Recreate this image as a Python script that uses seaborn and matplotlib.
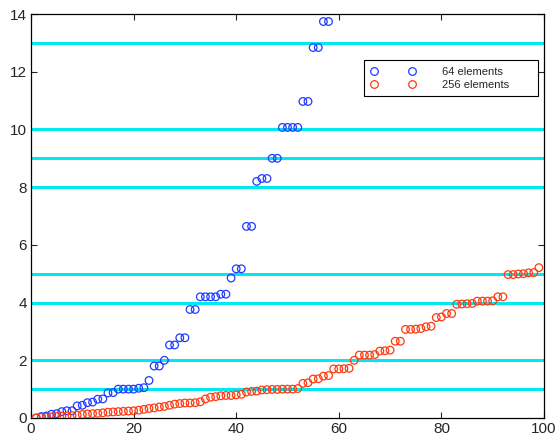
import numpy as np
import pandas as pd
import matplotlib
matplotlib.use("Agg")
import matplotlib.pyplot as plt
from matplotlib.lines import Line2D
import seaborn as sns

# values
blue_vals = [0.0, 0.05, 0.07, 0.13, 0.15, 0.22, 0.25, 0.25, 0.42, 0.44,
             0.53, 0.55, 0.65, 0.66, 0.87, 0.88, 1.0, 1.0, 1.0, 1.0,
             1.03, 1.05, 1.3, 1.8, 1.8, 2.0, 2.53, 2.53, 2.78, 2.78,
             3.76, 3.76, 4.2, 4.2, 4.2, 4.2, 4.29, 4.29, 4.85, 5.17,
             5.17, 6.64, 6.64, 8.2, 8.3, 8.3, 9.0, 9.0, 10.07, 10.07,
             10.07, 10.07, 10.97, 10.97, 12.84, 12.84, 13.74, 13.74]
red_vals = [0.0, 0.02, 0.03, 0.04, 0.05, 0.06, 0.07, 0.08, 0.1, 0.12,
            0.14, 0.15, 0.16, 0.18, 0.2, 0.21, 0.22, 0.23, 0.24, 0.25,
            0.27, 0.3, 0.33, 0.35, 0.38, 0.4, 0.44, 0.48, 0.5, 0.52,
            0.52, 0.53, 0.56, 0.66, 0.72, 0.74, 0.77, 0.78, 0.78, 0.8,
            0.82, 0.9, 0.92, 0.93, 0.97, 0.98, 0.99, 0.99, 1.0, 1.0,
            1.0, 1.02, 1.2, 1.22, 1.35, 1.36, 1.45, 1.47, 1.7, 1.7,
            1.71, 1.72, 2.0, 2.18, 2.18, 2.18, 2.2, 2.32, 2.33, 2.35,
            2.66, 2.66, 3.07, 3.07, 3.08, 3.1, 3.16, 3.18, 3.48, 3.5,
            3.62, 3.62, 3.94, 3.95, 3.96, 3.97, 4.05, 4.05, 4.05, 4.06,
            4.2, 4.2, 4.97, 4.97, 4.99, 5.0, 5.03, 5.04, 5.21]
hlines = [1, 2, 4, 5, 8, 9, 10, 13]
labels = ["64 elements", "256 elements"]
xticks = [0, 20, 40, 60, 80, 100]
yticks = [0, 2, 4, 6, 8, 10, 12, 14]

blue = "#1f3cff"
red = "#ff3a10"
cyan = "#00e8f0"

sns.set_style("ticks")
plt.rcParams["font.family"] = ["Liberation Sans", "DejaVu Sans"]

df_blue = pd.DataFrame({"x": np.arange(1, len(blue_vals) + 1), "y": blue_vals})
df_red = pd.DataFrame({"x": np.arange(1, len(red_vals) + 1), "y": red_vals})

fig = plt.figure(figsize=(5.6, 4.41), dpi=100)
ax = fig.add_axes([0.0554, 0.0522, 0.9160, 0.9160])

for h in hlines:
    ax.axhline(h, color=cyan, lw=2.2, zorder=1)

for df, col in [(df_blue, blue), (df_red, red)]:
    sns.scatterplot(data=df, x="x", y="y", ax=ax, marker="o", s=30,
                    zorder=3, legend=False)
    coll = ax.collections[-1]
    coll.set_facecolor("none")
    coll.set_edgecolor(col)
    coll.set_linewidth(0.9)

ax.set_xlim(0, 100)
ax.set_ylim(0, 14)
ax.set_xticks(xticks)
ax.set_yticks(yticks)
ax.set_xlabel("")
ax.set_ylabel("")
ax.tick_params(direction="in", length=4, width=0.8, top=True, right=True,
               labelsize=11, pad=3)
for sp in ax.spines.values():
    sp.set_visible(True)
    sp.set_linewidth(0.9)
    sp.set_color("black")

# legend: two markers per entry, wide box like the original
handles = [Line2D([], [], ls="", marker="o", mfc="none", mec=c, ms=5.5, mew=0.9)
           for c in (blue, red)]
leg = ax.legend(handles, labels, numpoints=2, handlelength=4.0,
                handletextpad=2.4, loc="upper left", mode="expand",
                bbox_to_anchor=(0.649, 0.795, 0.339, 0.091), fontsize=8,
                fancybox=False, framealpha=1, edgecolor="black",
                borderpad=0.6, labelspacing=0.25, borderaxespad=0)
leg.get_frame().set_linewidth(0.8)

fig.savefig("out.png", dpi=100)
